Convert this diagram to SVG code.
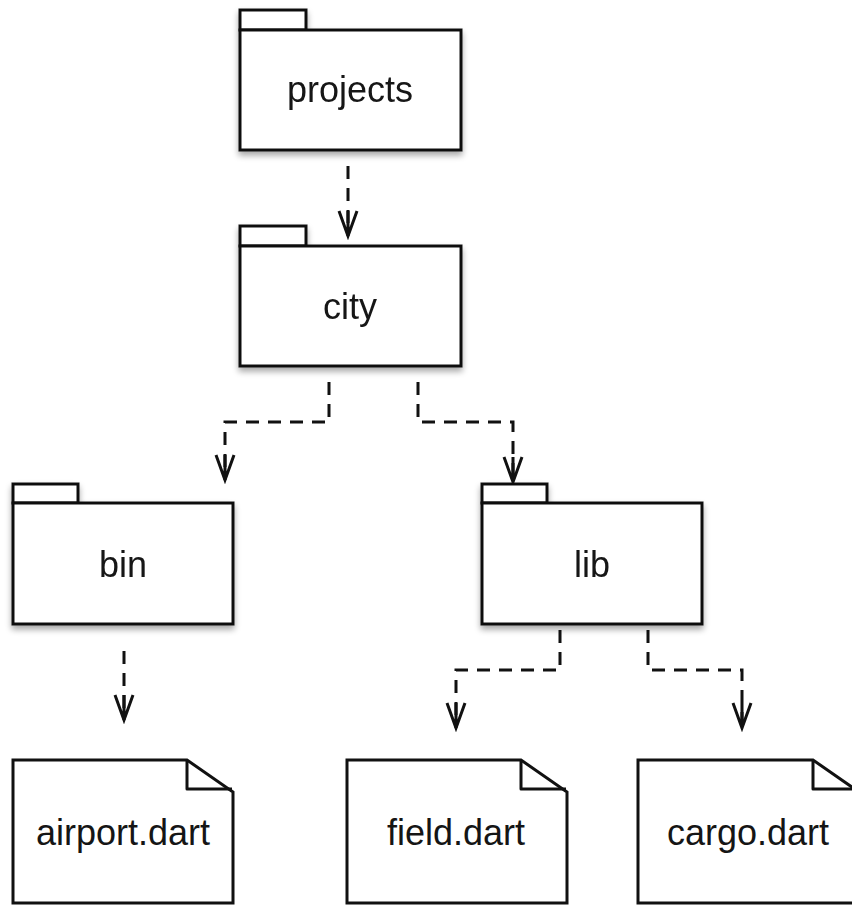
<svg xmlns="http://www.w3.org/2000/svg" width="852" height="906" viewBox="0 0 852 906">
  <style>
    .shape { fill: #ffffff; stroke: #111111; stroke-width: 3; stroke-linejoin: miter; }
    .fold { fill: none; stroke: #111111; stroke-width: 3; stroke-linejoin: round; }
    .label { font-family: "Liberation Sans", Arial, sans-serif; font-size: 36px; fill: #151515; text-anchor: middle; }
    .link { fill: none; stroke: #111111; stroke-width: 3; stroke-dasharray: 13 9; }
  </style>
  <defs>
    <filter id="drop" x="-10%" y="-10%" width="120%" height="130%">
      <feGaussianBlur in="SourceAlpha" stdDeviation="3"/>
      <feOffset dx="0" dy="4"/>
      <feComponentTransfer><feFuncA type="linear" slope="0.35"/></feComponentTransfer>
      <feMerge><feMergeNode/><feMergeNode in="SourceGraphic"/></feMerge>
    </filter>
    <marker id="open-arrow" viewBox="-28 -12 32 24" refX="0" refY="0" markerWidth="32" markerHeight="24" markerUnits="userSpaceOnUse" orient="auto">
      <path d="M-25,-9 L0,0 L-25,9 M-25,0 L0,0" fill="none" stroke="#111111" stroke-width="3" stroke-linejoin="miter"/>
    </marker>
  </defs>

  <rect width="852" height="906" fill="#ffffff"/>

  <!-- dependency connectors -->
  <g id="connectors">
    <path class="link" d="M348,166 V236" marker-end="url(#open-arrow)"/>
    <path class="link" d="M329,382 V422 H225 V480" marker-end="url(#open-arrow)"/>
    <path class="link" d="M418,382 V422 H513 V482" marker-end="url(#open-arrow)"/>
    <path class="link" d="M124,651 V720" marker-end="url(#open-arrow)"/>
    <path class="link" d="M560,630 V670 H456 V728" marker-end="url(#open-arrow)"/>
    <path class="link" d="M648,630 V670 H742 V728" marker-end="url(#open-arrow)"/>
  </g>

  <!-- folders -->
  <g id="projects" filter="url(#drop)">
    <rect class="shape" x="240" y="10" width="66" height="20"/>
    <rect class="shape" x="240" y="30" width="221" height="120"/>
    <text class="label" x="350" y="102">projects</text>
  </g>
  <g id="city" filter="url(#drop)">
    <rect class="shape" x="240" y="226" width="66" height="20"/>
    <rect class="shape" x="240" y="246" width="221" height="120"/>
    <text class="label" x="350" y="319">city</text>
  </g>
  <g id="bin" filter="url(#drop)">
    <rect class="shape" x="13" y="484" width="65" height="19"/>
    <rect class="shape" x="13" y="503" width="220" height="121"/>
    <text class="label" x="123" y="577">bin</text>
  </g>
  <g id="lib" filter="url(#drop)">
    <rect class="shape" x="482" y="484" width="65" height="19"/>
    <rect class="shape" x="482" y="503" width="220" height="121"/>
    <text class="label" x="592" y="577">lib</text>
  </g>

  <!-- files -->
  <g id="airport-dart">
    <path class="shape" d="M13,760 H187 L233,792 V903 H13 Z" stroke-linejoin="round"/>
    <path class="fold" d="M187,760 V789 H232"/>
    <text class="label" x="123" y="845">airport.dart</text>
  </g>
  <g id="field-dart">
    <path class="shape" d="M347,760 H521 L567,792 V903 H347 Z" stroke-linejoin="round"/>
    <path class="fold" d="M521,760 V789 H566"/>
    <text class="label" x="456" y="845">field.dart</text>
  </g>
  <g id="cargo-dart">
    <path class="shape" d="M638,760 H813 L859,792 V903 H638 Z" stroke-linejoin="round"/>
    <path class="fold" d="M813,760 V789 H858"/>
    <text class="label" x="748" y="845">cargo.dart</text>
  </g>
</svg>
